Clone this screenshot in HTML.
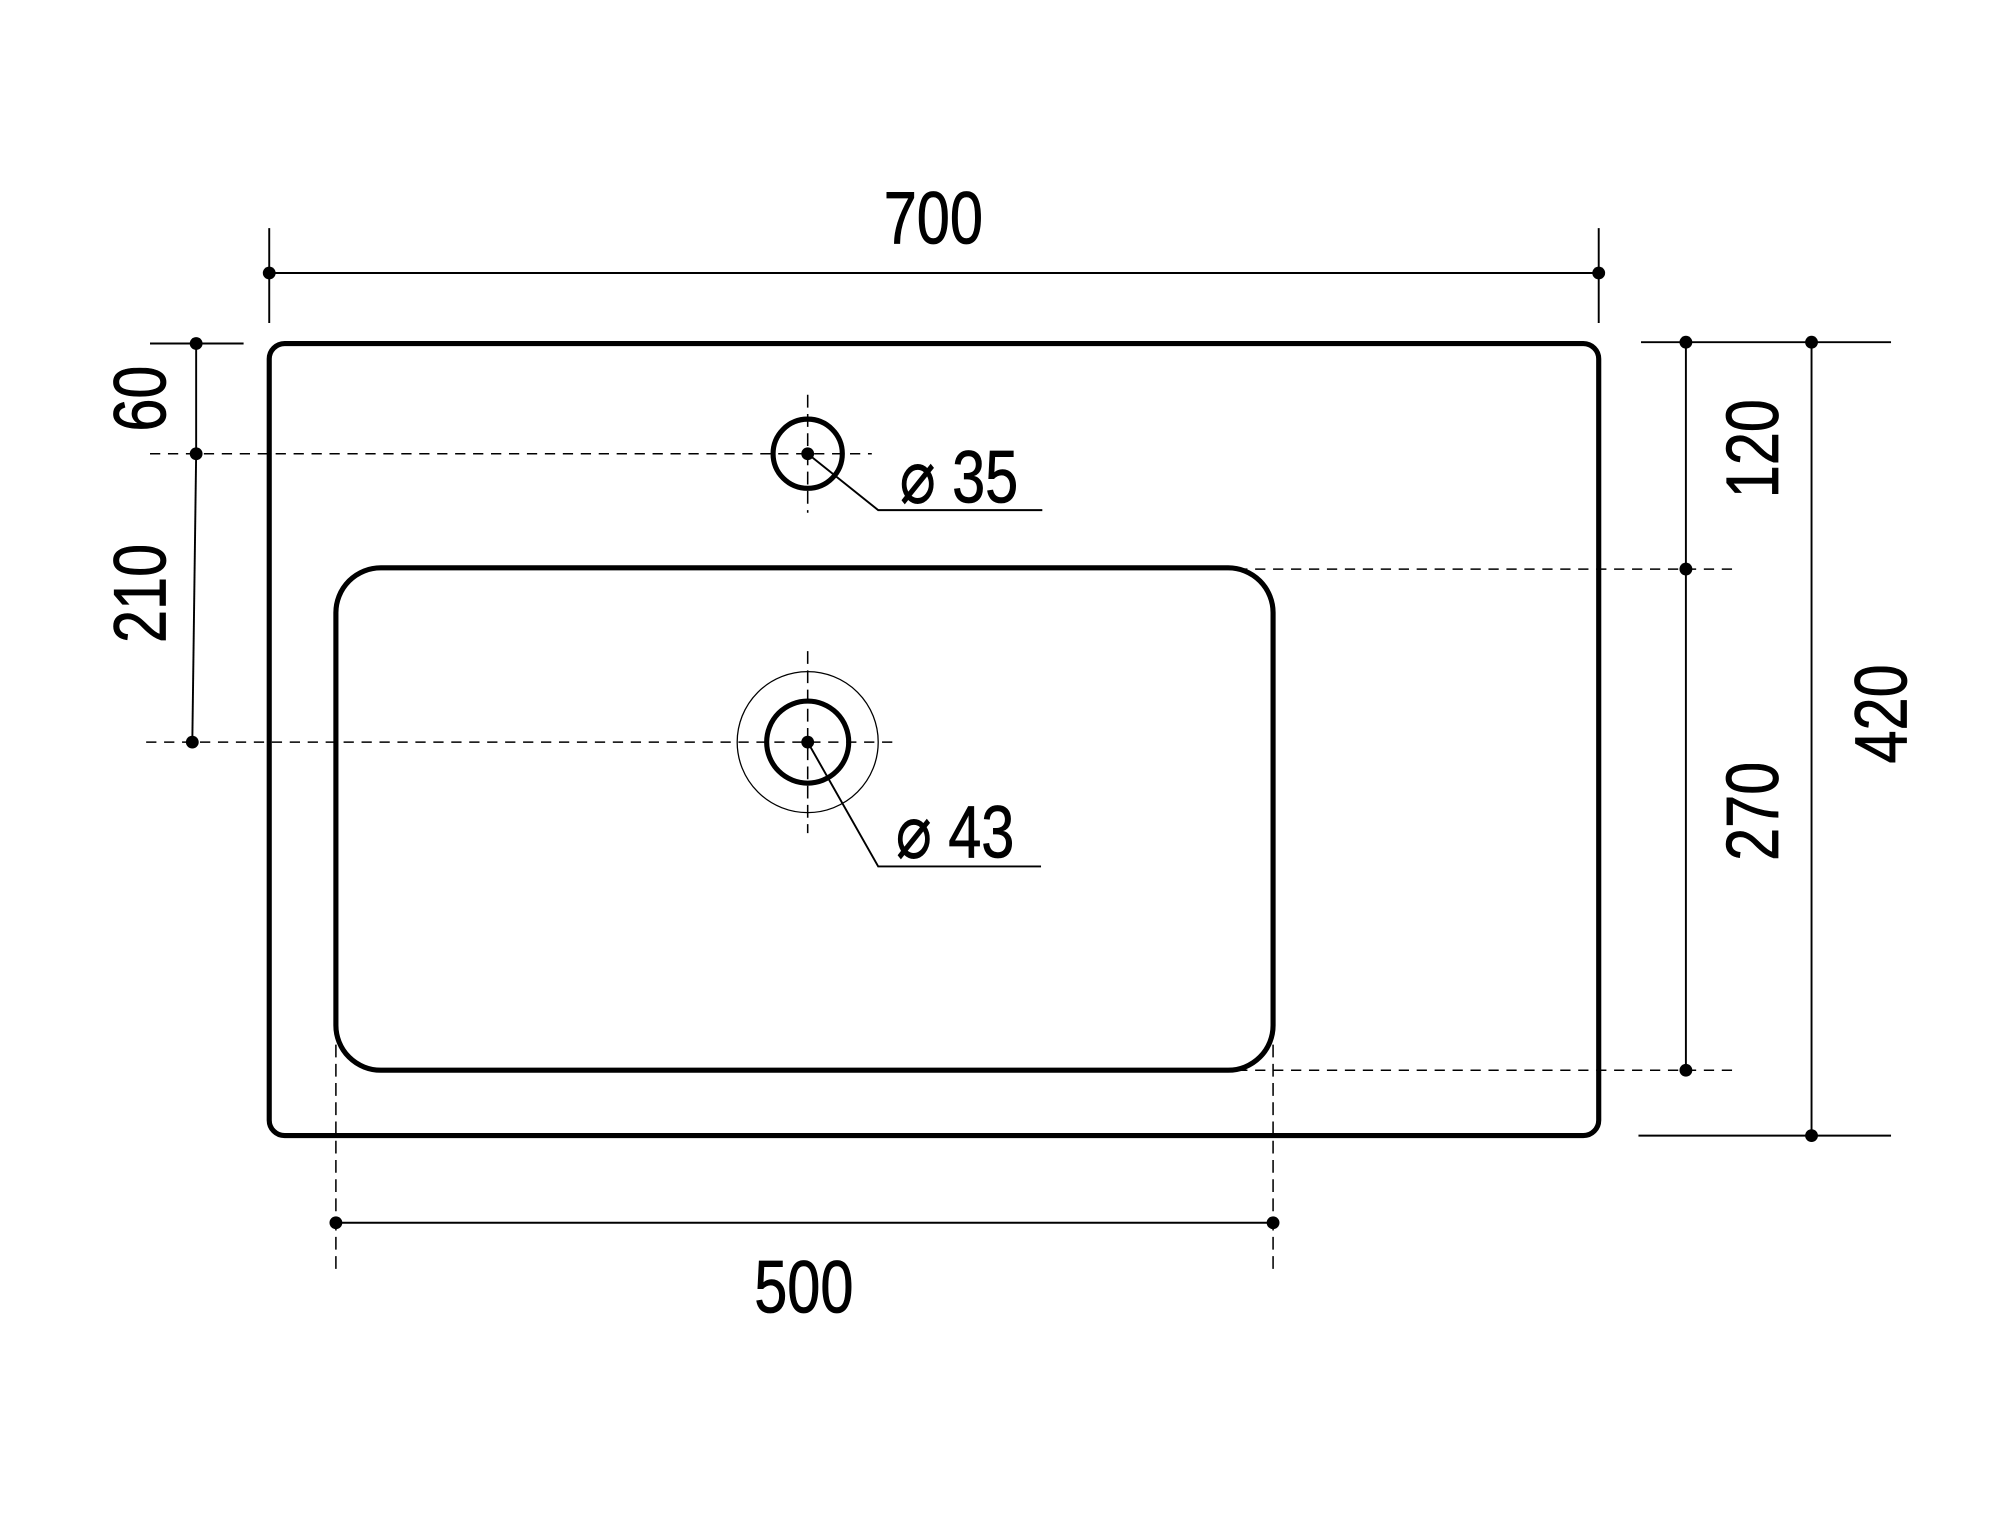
<!DOCTYPE html>
<html><head><meta charset="utf-8"><style>
html,body{margin:0;padding:0;background:#fff;}
svg{display:block;}
text{font-family:"Liberation Sans",sans-serif;font-size:58px;fill:#000;stroke:#000;stroke-width:0.6;}
</style></head><body>
<svg width="2000" height="1515" viewBox="0 0 1560 1182" preserveAspectRatio="none" xmlns="http://www.w3.org/2000/svg">
<g fill="none" stroke="#000">
  <rect x="210" y="268" width="1037" height="618" rx="12" stroke-width="4"/>
  <rect x="262" y="443" width="731" height="392" rx="35" stroke-width="4"/>
  <line x1="210" y1="213" x2="1247" y2="213" stroke-width="1.5"/>
  <line x1="210" y1="178" x2="210" y2="252" stroke-width="1.5"/>
  <line x1="1247" y1="178" x2="1247" y2="252" stroke-width="1.5"/>
  <line x1="117" y1="268" x2="190" y2="268" stroke-width="1.5"/>
  <line x1="117" y1="354" x2="680" y2="354" stroke-width="1.2" stroke-dasharray="8,6"/>
  <line x1="114" y1="579" x2="700" y2="579" stroke-width="1.2" stroke-dasharray="8,6"/>
  <line x1="153" y1="268" x2="153" y2="354" stroke-width="1.5"/>
  <line x1="153" y1="354" x2="150" y2="579" stroke-width="1.5"/>
  <circle cx="630" cy="354" r="27" stroke-width="4"/>
  <line x1="630" y1="308" x2="630" y2="400" stroke-width="1.2" stroke-dasharray="10,5"/>
  <polyline points="630,354 685,398 813,398" stroke-width="1.5"/>
  <circle cx="630" cy="579" r="32" stroke-width="4"/>
  <circle cx="630" cy="579" r="55" stroke-width="1"/>
  <line x1="630" y1="508" x2="630" y2="650" stroke-width="1.2" stroke-dasharray="10,5"/>
  <polyline points="630,579 685,676 812,676" stroke-width="1.5"/>
  <line x1="262" y1="815" x2="262" y2="990" stroke-width="1.2" stroke-dasharray="10,5"/>
  <line x1="993" y1="815" x2="993" y2="990" stroke-width="1.2" stroke-dasharray="10,5"/>
  <line x1="262" y1="954" x2="993" y2="954" stroke-width="1.5"/>
  <line x1="1280" y1="267" x2="1475" y2="267" stroke-width="1.5"/>
  <line x1="965" y1="444" x2="1352" y2="444" stroke-width="1.2" stroke-dasharray="8,6"/>
  <line x1="965" y1="835" x2="1352" y2="835" stroke-width="1.2" stroke-dasharray="8,6"/>
  <line x1="1278" y1="886" x2="1475" y2="886" stroke-width="1.5"/>
  <line x1="1315" y1="267" x2="1315" y2="835" stroke-width="1.5"/>
  <line x1="1413" y1="267" x2="1413" y2="886" stroke-width="1.5"/>
</g>
<g fill="#000">
  <circle cx="210" cy="213" r="5"/><circle cx="1247" cy="213" r="5"/>
  <circle cx="153" cy="268" r="5"/><circle cx="153" cy="354" r="5"/><circle cx="150" cy="579" r="5"/>
  <circle cx="630" cy="354" r="5"/><circle cx="630" cy="579" r="5"/>
  <circle cx="262" cy="954" r="5"/><circle cx="993" cy="954" r="5"/>
  <circle cx="1315" cy="267" r="5"/><circle cx="1315" cy="444" r="5"/><circle cx="1315" cy="835" r="5"/>
  <circle cx="1413" cy="267" r="5"/><circle cx="1413" cy="886" r="5"/>
</g>
<text transform="translate(728,190) scale(0.8,1)" text-anchor="middle">700</text>
<text transform="translate(627,1024) scale(0.8,1)" text-anchor="middle">500</text>
<text transform="translate(748,392) scale(0.8,1)" text-anchor="middle">⌀ 35</text>
<text transform="translate(745,669) scale(0.8,1)" text-anchor="middle">⌀ 43</text>
<text transform="translate(129,311) rotate(-90) scale(0.8,1)" text-anchor="middle">60</text>
<text transform="translate(129,463) rotate(-90) scale(0.8,1)" text-anchor="middle">210</text>
<text transform="translate(1387,350) rotate(-90) scale(0.8,1)" text-anchor="middle">120</text>
<text transform="translate(1387,633) rotate(-90) scale(0.8,1)" text-anchor="middle">270</text>
<text transform="translate(1487,557) rotate(-90) scale(0.8,1)" text-anchor="middle">420</text>
</svg>
</body></html>
